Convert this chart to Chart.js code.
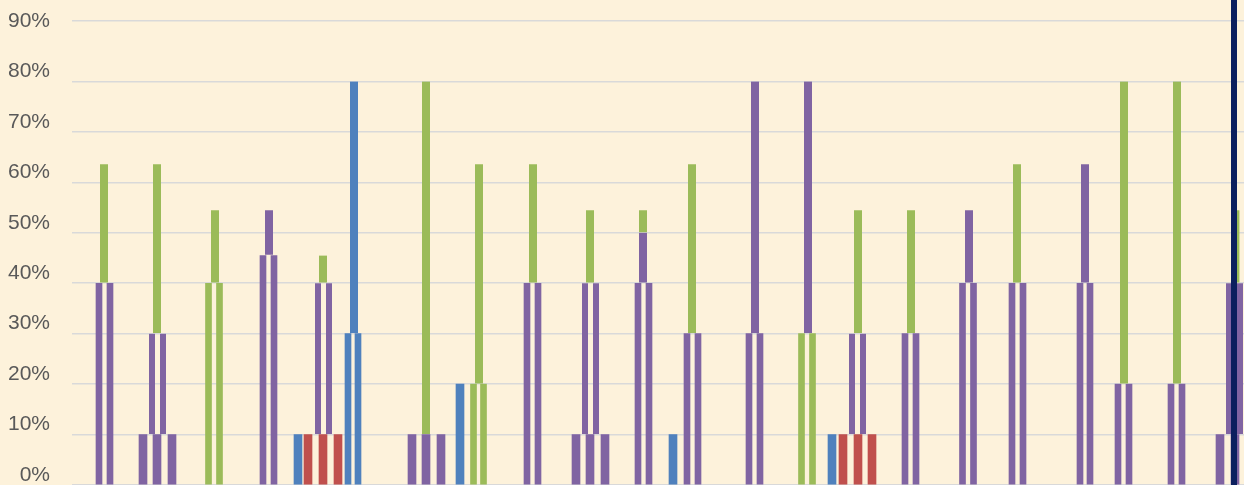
<!DOCTYPE html>
<html>
<head>
<meta charset="utf-8">
<title>Stacked share chart</title>
<script src="https://cdn.jsdelivr.net/npm/chart.js@4.4.0/dist/chart.umd.min.js"></script>
<style>
    html, body { margin: 0; padding: 0; background: #FDF2DB; }
    #chartWrap { width: 1244px; height: 485px; }
</style>
</head>
<body>
<div id="chartWrap"><canvas id="shareChart" width="1244" height="485"></canvas></div>
<script>
// Tick labels on the value axis (percent)
const yTicks = [0, 10, 20, 30, 40, 50, 60, 70, 80, 90];
const yMax = 92;

// Bars: [position on the x axis, from %, to %]
// Lower row (three bars around a group centre)
const lowPurple = [[71, 0, 10], [85, 0, 10], [100, 0, 10], [340, 0, 10], [354, 0, 10], [369, 0, 10],
    [504, 0, 10], [518, 0, 10], [533, 0, 10], [1148, 0, 10], [1163, 0, 10]];
const lowBlue = [[226, 0, 10], [388, 0, 20], [601, 0, 10], [760, 0, 10]];
const lowRed = [[236, 0, 10], [251, 0, 10], [266, 0, 10], [771, 0, 10], [786, 0, 10], [800, 0, 10]];

// Middle row (pairs)
const midPurple = [[27, 0, 40], [38, 0, 40], [80, 10, 30], [91, 10, 30], [191, 0, 45.5], [202, 0, 45.5],
    [246, 10, 40], [257, 10, 40], [455, 0, 40], [466, 0, 40], [513, 10, 40], [524, 10, 40],
    [566, 0, 40], [577, 0, 40], [615, 0, 30], [626, 0, 30], [677, 0, 30], [688, 0, 30],
    [780, 10, 30], [791, 10, 30], [833, 0, 30], [844, 0, 30], [890.5, 0, 40], [901.5, 0, 40],
    [940, 0, 40], [951, 0, 40], [1008, 0, 40], [1018, 0, 40], [1046, 0, 20], [1057, 0, 20],
    [1099, 0, 20], [1110, 0, 20], [1157, 10, 40], [1168, 10, 40]];
const midGreen = [[136.5, 0, 40], [147.5, 0, 40], [401.5, 0, 20], [411.5, 0, 20], [729.5, 0, 30], [740.5, 0, 30]];
const midBlue = [[276, 0, 30], [286, 0, 30]];

// Top row (single bar)
const topGreen = [[32, 40, 63.6], [85, 30, 63.6], [143, 40, 54.5], [251, 40, 45.5], [354, 10, 80],
    [407, 20, 63.6], [461, 40, 63.6], [518, 40, 54.5], [571, 50, 54.5], [620, 30, 63.6],
    [786, 30, 54.5], [839, 30, 54.5], [945, 40, 63.6], [1052, 20, 80], [1105, 20, 80], [1163.5, 40, 54.5]];
const topPurple = [[197, 45.5, 54.5], [571, 40, 50], [683, 30, 80], [736, 30, 80], [897, 40, 54.5], [1013, 40, 63.6]];
const topBlue = [[282, 30, 80]];

// Dark vertical marker at the right edge
const markerPos = 1162;
const xMax = 1172;

const colors = {
    purple: '#8064A2',
    green: '#9BBB59',
    blue: '#4F81BD',
    red: '#C0504D'
};

/**
 * Turn [pos, from, to] rows into floating bar points
 */
function toPoints(rows) {
    return rows.map(r => ({ x: r[0], y: [r[1], r[2]] }));
}

function makeSet(label, rows, color, thickness) {
    return {
        label: label,
        data: toPoints(rows),
        backgroundColor: color,
        borderColor: 'rgba(0,0,0,0)',
        // thin gap under a segment that sits on another one
        borderWidth: (ctx) => {
            const raw = ctx.raw;
            const gap = raw && raw.y && raw.y[0] > 0 ? 1 : 0;
            return { top: 0, left: 0, right: 0, bottom: gap };
        },
        borderSkipped: false,
        barThickness: thickness,
        grouped: false
    };
}

// Paper background
const paperPlugin = {
    id: 'paper',
    beforeDraw(chart) {
        const ctx = chart.ctx;
        ctx.save();
        ctx.fillStyle = '#FDF2DB';
        ctx.fillRect(0, 0, chart.width, chart.height);
        ctx.restore();
    }
};

// Navy vertical rule drawn over the bars
const markerPlugin = {
    id: 'marker',
    afterDatasetsDraw(chart) {
        const ctx = chart.ctx;
        const x = chart.scales.x.getPixelForValue(markerPos);
        ctx.save();
        ctx.fillStyle = '#0B1F5E';
        ctx.fillRect(x - 3, 0, 6, chart.height);
        ctx.restore();
    }
};

const canvas = document.getElementById('shareChart');
const ctx = canvas.getContext('2d');

const chart = new Chart(ctx, {
    type: 'bar',
    data: {
        datasets: [
            makeSet('Top purple', topPurple, colors.purple, 8),
            makeSet('Top green', topGreen, colors.green, 8),
            makeSet('Top blue', topBlue, colors.blue, 8),
            makeSet('Mid purple', midPurple, colors.purple, 6),
            makeSet('Mid green', midGreen, colors.green, 6),
            makeSet('Mid blue', midBlue, colors.blue, 6),
            makeSet('Low purple', lowPurple, colors.purple, 8),
            makeSet('Low blue', lowBlue, colors.blue, 8),
            makeSet('Low red', lowRed, colors.red, 8)
        ]
    },
    options: {
        responsive: false,
        animation: false,
        layout: {
            padding: { left: 0, right: 0, top: 21, bottom: 0 }
        },
        plugins: {
            legend: { display: false },
            title: { display: false },
            tooltip: { enabled: false }
        },
        scales: {
            x: {
                type: 'linear',
                display: false,
                offset: false,
                min: 0,
                max: xMax
            },
            y: {
                min: 0,
                max: yMax,
                border: { display: false },
                grid: {
                    drawTicks: false,
                    lineWidth: 1.6,
                    color: (c) => (c.tick && c.tick.value === 90 ? 'rgba(0,0,0,0)' : '#D9D9D9')
                },
                afterBuildTicks: (scale) => {
                    scale.ticks = yTicks.concat([yMax]).map(v => ({ value: v }));
                },
                afterFit: (scale) => {
                    scale.width = 72;
                    scale.paddingTop = 0;
                    scale.paddingBottom = 0;
                },
                ticks: {
                    padding: 22,
                    labelOffset: -10,
                    color: '#595959',
                    font: { family: 'Liberation Sans, Arial, sans-serif', size: 21 },
                    callback: function(value) {
                        return yTicks.includes(value) ? value + '%' : '';
                    }
                }
            }
        }
    },
    plugins: [paperPlugin, markerPlugin]
});
</script>
</body>
</html>
